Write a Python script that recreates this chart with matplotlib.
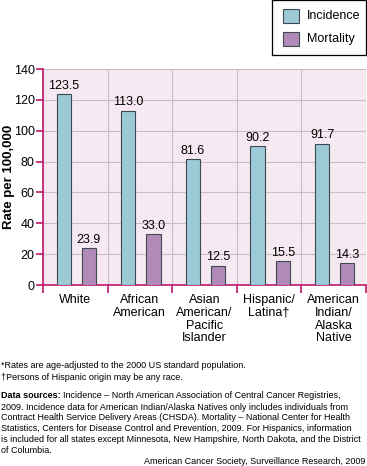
import matplotlib.pyplot as plt
import numpy as np

plt.rcParams['font.family'] = ['Liberation Sans', 'DejaVu Sans']

# --- Data ---
groups = ['White', 'African\nAmerican', 'Asian\nAmerican/\nPacific\nIslander',
          'Hispanic/\nLatina\u2020', 'American\nIndian/\nAlaska\nNative']
incidence = [123.5, 113.0, 81.6, 90.2, 91.7]
mortality = [23.9, 33.0, 12.5, 15.5, 14.3]
yticks = [0, 20, 40, 60, 80, 100, 120, 140]

INC_COLOR = '#9ccad5'
MORT_COLOR = '#b08ab9'
EDGE = '#3d4a4f'
AXIS_COLOR = '#c0196b'
BG = '#f7e9f1'
GRID = '#c6bfc3'
FS = 9

fig = plt.figure(figsize=(3.67, 4.66), dpi=100)
ax = fig.add_axes([43 / 367, 1 - 285 / 466, (366 - 43) / 367, (285 - 69) / 466])
ax.set_facecolor(BG)

x = np.arange(len(groups))
w = 0.22
b1 = ax.bar(x + 0.32, incidence, w, color=INC_COLOR, edgecolor=EDGE, linewidth=0.8, zorder=3)
b2 = ax.bar(x + 0.71, mortality, w, color=MORT_COLOR, edgecolor=EDGE, linewidth=0.8, zorder=3)

for bars, vals in [(b1, incidence), (b2, mortality)]:
    for rect, v in zip(bars, vals):
        ax.text(rect.get_x() + rect.get_width() / 2, v + 1.5, f'{v:.1f}',
                ha='center', va='bottom', fontsize=FS)

ax.set_xlim(0, 5)
ax.set_ylim(0, 140)
ax.set_yticks(yticks)
ax.set_xticks(np.arange(6))
ax.set_xticklabels([])
for i, g in enumerate(groups):
    ax.text(i + 0.5, -6, g, ha='center', va='top', fontsize=FS, linespacing=1.08)

ax.grid(True, color=GRID, linewidth=0.8, zorder=0)
ax.set_axisbelow(True)
for s in ['top', 'right']:
    ax.spines[s].set_visible(False)
for s in ['left', 'bottom']:
    ax.spines[s].set_color(AXIS_COLOR)
    ax.spines[s].set_linewidth(1.2)
ax.tick_params(axis='both', colors=AXIS_COLOR, length=5, width=1.2, labelsize=FS,
               labelcolor='black', pad=1)
ax.tick_params(axis='x', length=6)

ax.set_ylabel('Rate per 100,000', fontsize=9.5, fontweight='bold')
ax.yaxis.set_label_coords(-0.086, 0.5)

# legend box
lax = fig.add_axes([272 / 367, 1 - 55 / 466, 94 / 367, 55 / 466])
lax.set_xlim(0, 94)
lax.set_ylim(55, 0)
lax.set_xticks([])
lax.set_yticks([])
for s in lax.spines.values():
    s.set_linewidth(0.9)
for yy, col, lab in [(16, INC_COLOR, 'Incidence'), (39, MORT_COLOR, 'Mortality')]:
    lax.add_patch(plt.Rectangle((11, yy - 7), 16, 14, facecolor=col, edgecolor=EDGE, linewidth=0.8))
    lax.text(35, yy, lab, va='center', ha='left', fontsize=FS)

# footnotes
fs = 6.45
fig.text(1 / 367, 1 - 366 / 466, '*Rates are age-adjusted to the 2000 US standard population.',
         fontsize=fs, va='center')
fig.text(1 / 367, 1 - 377 / 466, '\u2020Persons of Hispanic origin may be any race.',
         fontsize=fs, va='center')
src_lines = [
    'Incidence \u2013 North American Association of Central Cancer Registries,',
    '2009. Incidence data for American Indian/Alaska Natives only includes individuals from',
    'Contract Health Service Delivery Areas (CHSDA). Mortality \u2013 National Center for Health',
    'Statistics, Centers for Disease Control and Prevention, 2009. For Hispanics, information',
    'is included for all states except Minnesota, New Hampshire, North Dakota, and the District',
    'of Columbia.',
]
t = fig.text(1 / 367, 1 - 396 / 466, 'Data sources:', fontsize=fs, fontweight='bold', va='center')
fig.canvas.draw()
bb = t.get_window_extent()
fig.text(bb.x1 / fig.bbox.width + 0.006, 1 - 396 / 466, src_lines[0], fontsize=fs, va='center')
for k, line in enumerate(src_lines[1:]):
    fig.text(1 / 367, 1 - (407 + 10.8 * k) / 466, line, fontsize=fs, va='center')
fig.text(365 / 367, 1 - 461 / 466, 'American Cancer Society, Surveillance Research, 2009',
         fontsize=fs, va='center', ha='right')

fig.savefig('out.png', dpi=100)
